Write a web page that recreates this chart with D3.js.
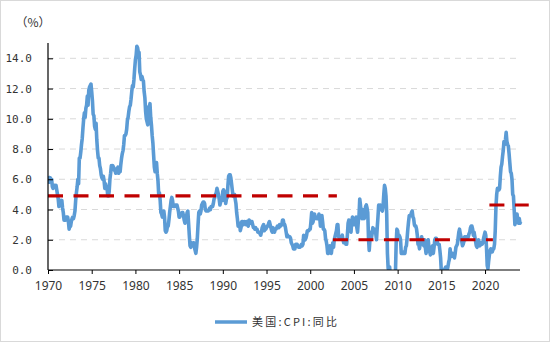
<!DOCTYPE html>
<html><head><meta charset="utf-8">
<script src="https://cdn.jsdelivr.net/npm/d3@7/dist/d3.min.js"></script>
<style>body{margin:0;background:#fff}</style>
</head><body><svg id="c" width="550" height="342"></svg>
<script>
// Monthly US CPI YoY (%) starting Jan 1970
const startYear = 1970;
const cpiYoY = [
6.2,6.1,5.8,6.1,6.0,6.0,5.5,5.4,5.6,5.6,5.5,5.6,
5.3,5.0,4.7,4.2,4.4,4.6,4.4,4.6,4.1,3.8,3.3,3.3,
3.3,3.5,3.5,3.5,3.2,2.7,2.9,2.9,3.2,3.4,3.5,3.4,
3.6,3.9,4.6,5.1,5.5,6.0,5.7,7.4,7.4,7.8,8.3,8.7,
9.4,10.0,10.4,10.1,10.7,10.9,11.5,10.9,11.9,12.1,12.2,12.3,
11.8,11.2,10.3,10.2,9.5,9.3,9.7,8.6,7.9,7.4,7.4,6.9,
6.7,6.3,6.1,6.0,6.2,5.9,5.4,5.7,5.5,5.5,4.9,4.9,
5.2,6.0,6.4,6.9,6.7,6.9,6.8,6.6,6.6,6.4,6.7,6.7,
6.8,6.4,6.6,6.5,7.0,7.4,7.7,7.9,8.3,8.9,8.9,9.0,
9.3,9.9,10.1,10.5,10.8,10.9,11.3,11.8,12.2,12.1,12.6,13.3,
13.9,14.2,14.8,14.7,14.4,14.4,13.1,12.9,12.6,12.8,12.6,12.5,
11.8,11.4,10.5,10.0,9.8,9.6,10.8,10.8,11.0,10.1,9.6,8.9,
8.4,7.6,6.8,6.5,6.7,7.1,6.4,5.9,5.0,5.1,4.6,3.8,
3.7,3.5,3.6,3.9,3.5,2.6,2.5,2.6,2.9,2.9,3.3,3.8,
4.2,4.6,4.8,4.6,4.2,4.2,4.2,4.3,4.3,4.3,4.1,3.9,
3.5,3.5,3.7,3.7,3.8,3.8,3.6,3.3,3.1,3.2,3.5,3.8,
3.9,3.1,2.3,1.6,1.5,1.8,1.6,1.6,1.8,1.5,1.3,1.1,
1.5,2.1,3.0,3.8,3.9,3.7,3.9,4.3,4.4,4.5,4.5,4.4,
4.0,3.9,3.9,3.9,3.9,4.0,4.1,4.0,4.2,4.2,4.2,4.4,
4.7,4.8,5.0,5.1,5.4,5.2,5.0,4.7,4.3,4.5,4.7,4.6,
5.2,5.3,5.2,4.7,4.4,4.7,4.8,5.6,6.2,6.3,6.3,6.1,
5.7,5.3,4.9,4.9,5.0,4.7,4.4,3.8,3.4,2.9,3.0,3.1,
2.6,2.8,3.2,3.2,3.0,3.1,3.2,3.1,3.0,3.2,3.0,2.9,
3.3,3.2,3.1,3.2,3.2,3.0,2.8,2.8,2.7,2.8,2.7,2.7,
2.5,2.5,2.5,2.4,2.3,2.5,2.8,2.9,3.0,2.6,2.7,2.7,
2.8,2.9,2.9,3.1,3.2,3.0,2.8,2.6,2.5,2.8,2.6,2.5,
2.7,2.7,2.8,2.9,2.9,2.8,3.0,2.9,3.0,3.0,3.3,3.3,
3.0,3.0,2.8,2.5,2.2,2.3,2.2,2.2,2.2,2.1,1.8,1.7,
1.6,1.4,1.4,1.4,1.7,1.7,1.7,1.6,1.5,1.5,1.5,1.6,
1.7,1.6,1.7,2.3,2.1,2.0,2.1,2.3,2.6,2.6,2.6,2.7,
2.7,3.2,3.8,3.1,3.2,3.7,3.7,3.4,3.5,3.4,3.4,3.4,
3.7,3.5,2.9,3.3,3.6,3.2,2.7,2.7,2.6,2.1,1.9,1.6,
1.1,1.1,1.5,1.6,1.2,1.1,1.5,1.8,1.5,2.0,2.2,2.4,
2.6,3.0,3.0,2.2,2.1,2.1,2.1,2.2,2.3,2.0,1.8,1.9,
1.9,1.7,1.7,2.3,3.1,3.3,3.0,2.7,2.5,3.2,3.5,3.3,
3.0,3.0,3.1,3.5,2.8,2.5,3.2,3.6,4.7,4.3,3.5,3.4,
4.0,3.6,3.4,3.5,4.2,4.3,4.1,3.8,2.1,1.3,2.0,2.5,
2.1,2.4,2.8,2.6,2.7,2.7,2.4,2.0,2.8,3.5,4.3,4.1,
4.3,4.0,4.0,3.9,4.2,5.0,5.6,5.4,4.9,3.7,1.1,0.1,
0.0,0.2,-0.4,-0.7,-1.3,-1.4,-2.1,-1.5,-1.3,-0.2,1.8,2.7,
2.6,2.1,2.3,2.2,2.0,1.1,1.2,1.1,1.1,1.2,1.1,1.5,
1.6,2.1,2.7,3.2,3.6,3.6,3.6,3.8,3.9,3.5,3.4,3.0,
2.9,2.9,2.7,2.3,1.7,1.7,1.4,1.7,2.0,2.2,1.8,1.7,
1.6,2.0,1.5,1.1,1.4,1.8,2.0,1.5,1.2,1.0,1.2,1.5,
1.6,1.1,1.5,2.0,2.1,2.1,2.0,1.7,1.7,1.7,1.3,0.8,
-0.1,0.0,-0.1,-0.2,0.0,0.1,0.2,0.2,0.0,0.2,0.5,0.7,
1.4,1.0,0.9,1.1,1.0,1.0,0.8,1.1,1.5,1.6,1.7,2.1,
2.5,2.7,2.4,2.2,1.9,1.6,1.7,1.9,2.2,2.0,2.2,2.1,
2.1,2.2,2.4,2.5,2.8,2.9,2.9,2.7,2.3,2.5,2.2,1.9,
1.6,1.5,1.9,2.0,1.8,1.6,1.8,1.7,1.7,1.8,2.1,2.3,
2.5,2.3,1.5,0.3,0.1,0.6,1.0,1.3,1.4,1.2,1.2,1.4,
1.4,1.7,2.6,4.2,5.0,5.4,5.4,5.3,5.4,6.2,6.8,7.0,
7.5,7.9,8.5,8.3,8.6,9.1,8.5,8.3,8.2,7.7,7.1,6.5,
6.4,6.0,5.0,4.9,4.0,3.0,3.2,3.7,3.7,3.2,3.1,3.4,
3.1,3.2
];
// Period averages (red dashed lines)
const avgLevels = [4.9, 2.0, 4.3];
const avgStart  = [1970, 2002.6, 2020.5];
const avgEnd    = [2003.05, 2020.9, 2025];
const xTicks = [1970,1975,1980,1985,1990,1995,2000,2005,2010,2015,2020];
const yTicks = [0,2,4,6,8,10,12,14];
const seriesName = "美国:CPI:同比";
const unitLabel = "（%）";

const svg = d3.select("#c");
svg.append("rect").attr("x",0.5).attr("y",0.5).attr("width",549).attr("height",341)
  .attr("fill","#fff").attr("stroke","#d9d9d9");

const x = d3.scaleLinear().domain([1970, 2024]).range([48, 520]);
const y = d3.scaleLinear().domain([0, 15]).range([270, 43.2]);

// gridlines
svg.append("g").selectAll("line").data(yTicks.filter(d=>d>0)).join("line")
  .attr("x1", x(1970)).attr("x2", x(2024))
  .attr("y1", d=>y(d)).attr("y2", d=>y(d))
  .attr("stroke","#d9d9d9").attr("stroke-width",1).attr("stroke-dasharray","6,5");

// clip
svg.append("clipPath").attr("id","pc").append("rect")
  .attr("x", x(1970)).attr("y", 30).attr("width", 500).attr("height", y(0)-30);

const pts = cpiYoY.map((v,i)=>({t: startYear + i/12, v}));
svg.append("path").datum(pts)
  .attr("clip-path","url(#pc)")
  .attr("fill","none").attr("stroke","#5b9bd5").attr("stroke-width",3.6)
  .attr("stroke-linejoin","round")
  .attr("d", d3.line().x(d=>x(d.t)).y(d=>y(d.v)));

// average dashed lines
svg.append("g").selectAll("line").data(avgLevels).join("line")
  .attr("x1",(d,i)=>x(avgStart[i])).attr("x2",(d,i)=>x(avgEnd[i]))
  .attr("y1",d=>y(d)).attr("y2",d=>y(d))
  .attr("stroke","#c00000").attr("stroke-width",3.2).attr("stroke-dasharray","15,10.5");

// y axis
const ya = svg.append("g").attr("transform",`translate(${x(1970)},0)`)
  .call(d3.axisLeft(y).tickValues(yTicks).tickSize(-5).tickSizeOuter(0).tickPadding(16).tickFormat(d3.format(".1f")));
ya.select(".domain").remove();
ya.selectAll(".tick line").attr("stroke","#000");
ya.selectAll("text").attr("font-family","'DejaVu Sans Mono', monospace").attr("font-size",11).attr("fill","#333");
svg.append("line").attr("x1",x(1970)).attr("x2",x(1970)).attr("y1",43).attr("y2",y(0)).attr("stroke","#000").attr("stroke-width",1.2);

// x axis
const xa = svg.append("g").attr("transform",`translate(0,${y(0)})`)
  .call(d3.axisBottom(x).tickValues(xTicks).tickSize(4).tickSizeOuter(0).tickPadding(7).tickFormat(d3.format("d")));
xa.select(".domain").remove();
xa.selectAll(".tick line").attr("stroke","#000");
xa.selectAll("text").attr("font-family","'Noto Sans', sans-serif").attr("font-size",12).attr("fill","#333");
svg.append("line").attr("x1",x(1970)).attr("x2",x(2024)).attr("y1",y(0)).attr("y2",y(0)).attr("stroke","#000").attr("stroke-width",1.2);

// unit label
svg.append("text").attr("x",33).attr("y",26.5).attr("text-anchor","middle")
  .attr("font-family","'Noto Sans CJK SC', sans-serif").attr("font-size",12).attr("fill","#333")
  .text(unitLabel);

// legend
svg.append("line").attr("x1",215).attr("x2",247).attr("y1",322).attr("y2",322)
  .attr("stroke","#5b9bd5").attr("stroke-width",3.5);
svg.append("text").attr("x",252).attr("y",326)
  .attr("font-family","'Noto Sans CJK SC', sans-serif").attr("font-size",11).attr("fill","#333")
  .attr("textLength",85).attr("lengthAdjust","spacing")
  .text(seriesName);
</script>
</body></html>
